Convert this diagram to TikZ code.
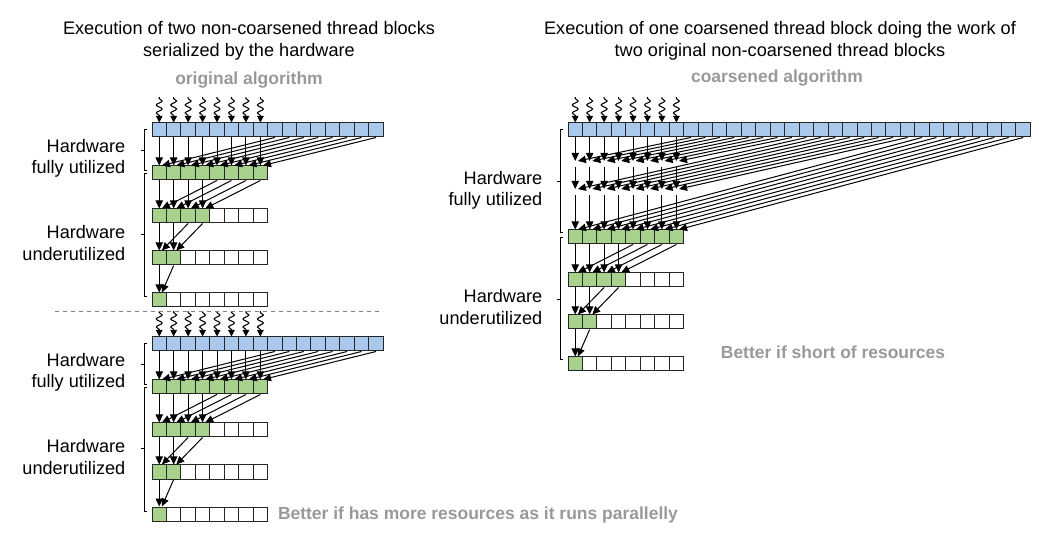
\documentclass[tikz,border=0pt]{standalone}
\usepackage{fontspec}
\setmainfont{Liberation Sans}
\usetikzlibrary{arrows.meta,decorations.pathmorphing}
\definecolor{cblue}{HTML}{A9C9EC}
\definecolor{cgreen}{HTML}{A9D18E}
\definecolor{tgray}{HTML}{999999}
\tikzset{
 cell/.style={draw=black!85,line width=0.75pt,minimum width=10.84pt,minimum height=10.5pt,inner sep=0pt},
 arr/.style={-{Triangle[length=6pt,width=5.5pt]},line width=0.75pt},
 sq/.style={-{Triangle[length=5pt,width=5pt]},line width=0.8pt,decorate,decoration={snake,amplitude=2.2pt,segment length=6pt,pre length=1pt,post length=5pt}},
 lab/.style={align=right,anchor=east,font=\fontsize{13.6}{16}\selectfont},
 tit/.style={align=center,font=\fontsize{13.6}{16.5}\selectfont},
 gl/.style={text=tgray,font=\bfseries\fontsize{13.1}{15}\selectfont},
 brk/.style={line width=0.75pt}
}
\newcommand\cellrow[6]{\foreach \i in {0,...,#4}{\pgfmathsetmacro\cx{#2+(\i+0.5)*14.45}\ifnum\i<#5 \node[cell,fill=#6] (#1-\i) at (\cx,#3) {};\else\node[cell,fill=white] (#1-\i) at (\cx,#3) {};\fi}}
\newcommand\reduce[2]{\foreach \i in {0,1,2,3}{\pgfmathtruncatemacro\j{\i+4}\draw[arr] (#1-\i.south) -- (#2-\i.north);\draw[arr] (#1-\j.south) -- ([xshift=2pt]#2-\i.north);}}
\newcommand\reducetwo[2]{\foreach \i in {0,1}{\pgfmathtruncatemacro\j{\i+2}\draw[arr] (#1-\i.south) -- (#2-\i.north);\draw[arr] (#1-\j.south) -- ([xshift=2pt]#2-\i.north);}}
\newcommand\reduceone[2]{\draw[arr] (#1-0.south) -- (#2-0.north);\draw[arr] (#1-1.south) -- ([xshift=2pt]#2-0.north);}
\newcommand\squig[1]{\foreach \i in {0,...,7}{\draw[sq] ([yshift=19pt]#1-\i.north) -- (#1-\i.north);}}
\newcommand\lblock[2]{%
 \cellrow{#1B}{152}{130+#2}{15}{16}{cblue}
 \cellrow{#1G}{152}{173+#2}{7}{8}{cgreen}
 \cellrow{#1H}{152}{216+#2}{7}{4}{cgreen}
 \cellrow{#1I}{152}{258+#2}{7}{2}{cgreen}
 \cellrow{#1J}{152}{300+#2}{7}{1}{cgreen}
 \squig{#1B}
 \foreach \i in {0,...,7}{\pgfmathtruncatemacro\j{\i+8}\draw[arr] (#1B-\i.south) -- (#1G-\i.north);\draw[arr] (#1B-\j.south) -- ([xshift=2pt]#1G-\i.north);}
 \reduce{#1G}{#1H}\reducetwo{#1H}{#1I}\reduceone{#1I}{#1J}
 \draw[brk] (147,130+#2) -- (144,130+#2) -- (144,171+#2) -- (147,171+#2) (144,151+#2) -- (141,151+#2);
 \draw[brk] (147,174+#2) -- (144,174+#2) -- (144,297+#2) -- (147,297+#2) (144,235+#2) -- (141,235+#2);
 \node[lab] at (130,158+#2) {Hardware\\fully utilized};
 \node[lab] at (130,243+#2) {Hardware\\underutilized};
}
\begin{document}
\begin{tikzpicture}[x=0.75pt,y=-0.75pt]
\useasboundingbox (0,0) rectangle (1039,534);
\node[tit] at (249,41) {Execution of two non-coarsened thread blocks\\serialized by the hardware};
\node[tit] at (780,41) {Execution of one coarsened thread block doing the work of\\two original non-coarsened thread blocks};
\node[gl] at (249,80) {original algorithm};
\node[gl] at (777,78) {coarsened algorithm};
\node[gl] at (833,352) {Better if short of resources};
\node[gl] at (478,515) {Better if has more resources as it runs parallelly};
\lblock{T}{0}
\lblock{U}{214}
\draw[dashed,black!50,line width=0.6pt] (55,311) -- (383,311);
\cellrow{RB}{568}{130}{31}{32}{cblue}
\cellrow{RG}{568}{237}{7}{8}{cgreen}
\cellrow{RH}{568}{280}{7}{4}{cgreen}
\cellrow{RI}{568}{322}{7}{2}{cgreen}
\cellrow{RJ}{568}{364}{7}{1}{cgreen}
\squig{RB}
\foreach \i in {0,...,7}{
 \pgfmathsetmacro\cx{568+(\i+0.5)*14.45}
 \coordinate (La-\i) at (\cx,161); \coordinate (Lb-\i) at (\cx,167);
 \coordinate (Ma-\i) at (\cx,189); \coordinate (Mb-\i) at (\cx,195);
 \pgfmathtruncatemacro\j{\i+8}\pgfmathtruncatemacro\k{\i+16}\pgfmathtruncatemacro\l{\i+24}
 \draw[arr] (RB-\i.south) -- (La-\i);
 \draw[arr] (RB-\j.south) -- ([xshift=2pt]La-\i);
 \draw[arr] (Lb-\i) -- (Ma-\i);
 \draw[arr] (RB-\k.south) -- ([xshift=2pt]Ma-\i);
 \draw[arr] (Mb-\i) -- (RG-\i.north);
 \draw[arr] (RB-\l.south) -- ([xshift=2pt]RG-\i.north);
}
\reduce{RG}{RH}\reducetwo{RH}{RI}\reduceone{RI}{RJ}
\draw[brk] (563,130) -- (560,130) -- (560,233) -- (563,233) (560,182) -- (557,182);
\draw[brk] (563,238) -- (560,238) -- (560,360) -- (563,360) (560,300) -- (557,300);
\node[lab] at (547,190) {Hardware\\fully utilized};
\node[lab] at (547,307) {Hardware\\underutilized};
\end{tikzpicture}
\end{document}
